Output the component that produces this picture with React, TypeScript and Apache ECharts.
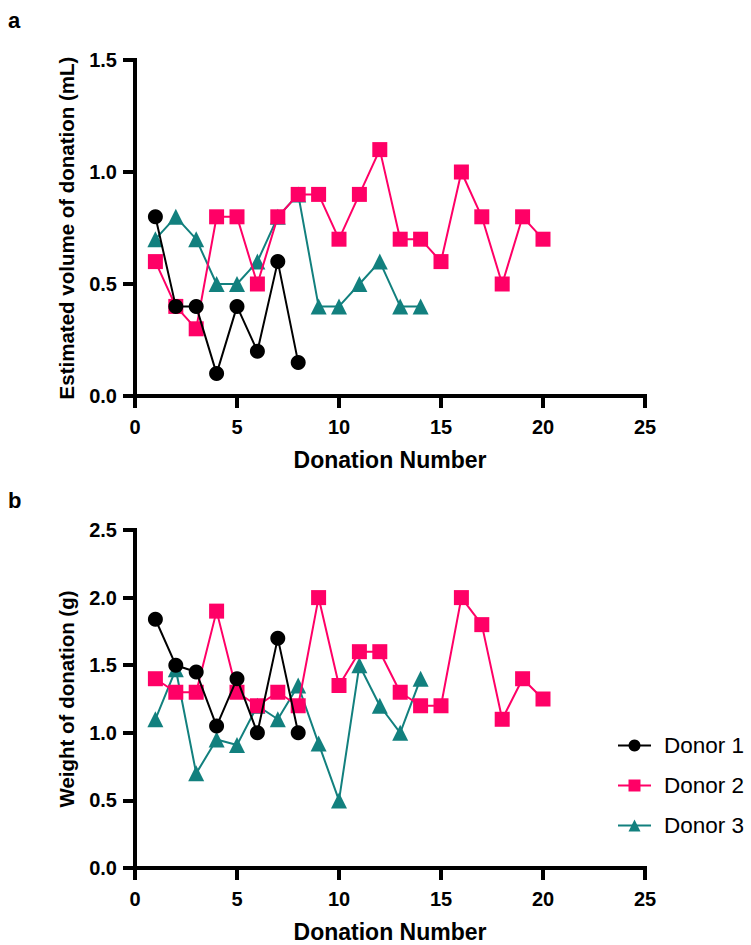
import React, { useEffect, useRef } from "react";
import * as echarts from "echarts";

const donationNumbers1 = [1, 2, 3, 4, 5, 6, 7, 8];
const donationNumbers2 = [1, 2, 3, 4, 5, 6, 7, 8, 9, 10, 11, 12, 13, 14, 15, 16, 17, 18, 19, 20];
const donationNumbers3 = [1, 2, 3, 4, 5, 6, 7, 8, 9, 10, 11, 12, 13, 14];

const volumeDonor1 = [0.8, 0.4, 0.4, 0.1, 0.4, 0.2, 0.6, 0.15];
const volumeDonor2 = [0.6, 0.4, 0.3, 0.8, 0.8, 0.5, 0.8, 0.9, 0.9, 0.7, 0.9, 1.1, 0.7, 0.7, 0.6, 1.0, 0.8, 0.5, 0.8, 0.7];
const volumeDonor3 = [0.7, 0.8, 0.7, 0.5, 0.5, 0.6, 0.8, 0.9, 0.4, 0.4, 0.5, 0.6, 0.4, 0.4];

const weightDonor1 = [1.84, 1.5, 1.45, 1.05, 1.4, 1.0, 1.7, 1.0];
const weightDonor2 = [1.4, 1.3, 1.3, 1.9, 1.3, 1.2, 1.3, 1.2, 2.0, 1.35, 1.6, 1.6, 1.3, 1.2, 1.2, 2.0, 1.8, 1.1, 1.4, 1.25];
const weightDonor3 = [1.1, 1.47, 0.7, 0.95, 0.91, 1.2, 1.1, 1.35, 0.92, 0.5, 1.5, 1.2, 1.0, 1.4];

const seriesNames = ["Donor 1", "Donor 2", "Donor 3"];
const colors = ["#000000", "#FF0066", "#12807E"];
const symbols = ["circle", "rect", "triangle"];

const zip = (xs: number[], ys: number[]) => xs.map((x, i) => [x, ys[i]]);

export default function App() {
  const ref = useRef<HTMLDivElement>(null);
  useEffect(() => {
    if (!ref.current) return;
    const chart = echarts.init(ref.current, null, { renderer: "svg" });
    const font = "Liberation Sans, Arial, Helvetica, sans-serif";
    const axisLine = { lineStyle: { color: "#000", width: 4, cap: "square" } };
    const axisTick = { show: true, inside: false, length: 12, lineStyle: { color: "#000", width: 4 } };
    const axisLabel = { color: "#000", fontSize: 20, fontWeight: "bold" as const, fontFamily: font };

    const mkX = (gridIndex: number) => ({
      type: "value",
      gridIndex,
      min: 0,
      max: 25,
      interval: 5,
      name: "Donation Number",
      nameLocation: "middle",
      nameGap: 52,
      nameTextStyle: { color: "#000", fontSize: 23, fontWeight: "bold" as const, fontFamily: font },
      axisLine: { show: true, onZero: false, ...axisLine },
      axisTick,
      axisLabel: { ...axisLabel, margin: 21 },
      splitLine: { show: false },
    });
    const mkY = (gridIndex: number, max: number, name: string) => ({
      type: "value",
      gridIndex,
      min: 0,
      max,
      interval: 0.5,
      name,
      nameLocation: "middle",
      nameGap: 58,
      nameTextStyle: { color: "#000", fontSize: 20.5, fontWeight: "bold" as const, fontFamily: font },
      axisLine: { show: true, ...axisLine },
      axisTick,
      axisLabel: { ...axisLabel, margin: 18, formatter: (v: number) => v.toFixed(1) },
      splitLine: { show: false },
    });

    const volumeData = [volumeDonor1, volumeDonor2, volumeDonor3];
    const weightData = [weightDonor1, weightDonor2, weightDonor3];
    const xsList = [donationNumbers1, donationNumbers2, donationNumbers3];

    const series: any[] = [];
    // draw order: Donor 3 bottom, Donor 2, Donor 1 top
    [2, 1, 0].forEach((k) => {
      [0, 1].forEach((g) => {
        series.push({
          type: "line",
          name: seriesNames[k],
          xAxisIndex: g,
          yAxisIndex: g,
          data: zip(xsList[k], g === 0 ? volumeData[k] : weightData[k]),
          symbol: symbols[k],
          symbolSize: k === 2 ? 16 : 15,
          showAllSymbol: true,
          lineStyle: { color: colors[k], width: 2 },
          itemStyle: { color: colors[k] },
          z: 3 - k,
        });
      });
    });

    chart.setOption({
      animation: false,
      backgroundColor: "#fff",
      textStyle: { fontFamily: font },
      graphic: [
        { type: "text", left: 8, top: 9, style: { text: "a", font: `bold 22px ${font}`, fill: "#000" } },
        { type: "text", left: 8, top: 489, style: { text: "b", font: `bold 22px ${font}`, fill: "#000" } },
      ],
      legend: {
        data: seriesNames,
        orient: "vertical",
        left: 612,
        top: 729,
        itemWidth: 33,
        itemHeight: 15,
        itemGap: 17,
        textStyle: { color: "#000", fontSize: 22.5, fontFamily: font, padding: [0, 0, 0, 8] },
      },
      grid: [
        { left: 135, right: 106, top: 60, height: 336 },
        { left: 135, right: 106, top: 530, height: 338 },
      ],
      xAxis: [mkX(0), mkX(1)],
      yAxis: [
        mkY(0, 1.5, "Estimated volume of donation (mL)"),
        mkY(1, 2.5, "Weight of donation (g)"),
      ],
      series,
    });
    return () => chart.dispose();
  }, []);
  return <div ref={ref} style={{ position: "absolute", left: 0, top: 0, width: 751, height: 945 }} />;
}
